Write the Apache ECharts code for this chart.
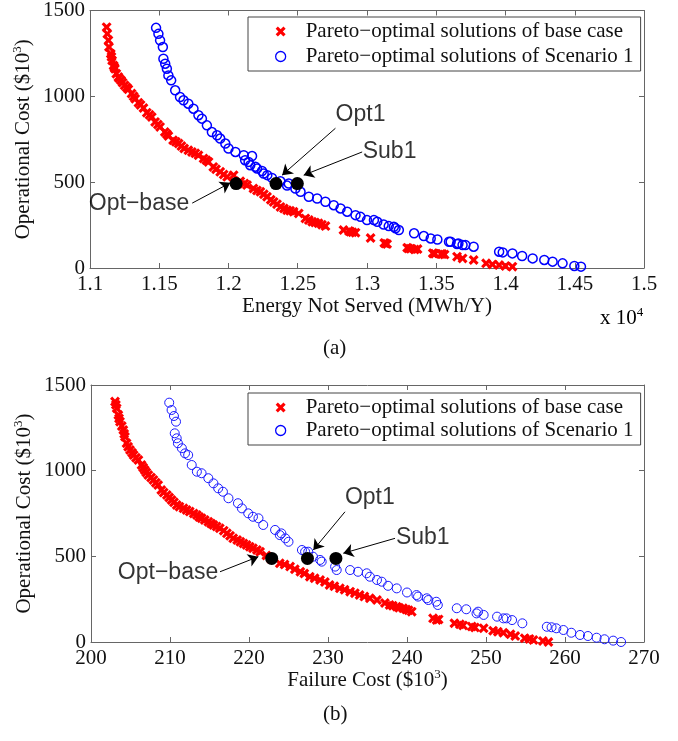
<!DOCTYPE html>
<html>
<head>
<meta charset="utf-8">
<script src="https://cdn.jsdelivr.net/npm/echarts@6/dist/echarts.min.js"></script>
<style>
  html, body { margin: 0; padding: 0; background: #fff; }
  #chart { width: 678px; height: 741px; }
</style>
</head>
<body>
<div id="chart"></div>
<script>
// (a) Energy Not Served (x 10^4 MWh/Y) vs Operational Cost ($10^3)
const ensBase = [
  [1.112, 1403], [1.1125, 1364], [1.1133, 1326], [1.1137, 1287], [1.115, 1248], [1.1155, 1230],
  [1.116, 1209], [1.117, 1180], [1.1175, 1170], [1.118, 1161], [1.119, 1132], [1.1205, 1112],
  [1.121, 1105], [1.1224, 1093], [1.1235, 1080], [1.125, 1064], [1.1265, 1052], [1.1277, 1041],
  [1.130, 1016], [1.1315, 1000], [1.1326, 986], [1.135, 963], [1.1365, 950], [1.1386, 932],
  [1.141, 905], [1.143, 892], [1.1446, 880], [1.147, 851], [1.149, 836], [1.1506, 822],
  [1.154, 792], [1.1555, 780], [1.1566, 769], [1.160, 744], [1.162, 735], [1.164, 725],
  [1.166, 710], [1.168, 696], [1.171, 686], [1.1736, 676], [1.176, 668], [1.1783, 657],
  [1.182, 638], [1.184, 628], [1.1856, 618], [1.189, 589], [1.191, 575], [1.194, 560],
  [1.1965, 545], [1.199, 531], [1.2037, 541], [1.2085, 505], [1.2115, 492], [1.2134, 483],
  [1.218, 463], [1.2205, 452], [1.223, 444], [1.2255, 430], [1.2278, 415], [1.2305, 398],
  [1.2326, 385], [1.235, 372], [1.2375, 356], [1.240, 347], [1.2423, 337], [1.2445, 333],
  [1.247, 328], [1.2507, 318], [1.2555, 289], [1.258, 279], [1.2604, 269], [1.2625, 265],
  [1.265, 260], [1.2675, 252], [1.27, 244], [1.283, 221], [1.287, 215], [1.288, 211],
  [1.2895, 208], [1.2917, 206], [1.3026, 175], [1.3125, 146], [1.3134, 143], [1.3145, 140],
  [1.329, 118], [1.330, 114], [1.3315, 112], [1.3345, 108], [1.3365, 110], [1.3475, 86],
  [1.348, 85], [1.349, 83], [1.3535, 82], [1.3544, 81], [1.356, 78], [1.365, 66],
  [1.369, 56], [1.377, 47], [1.386, 27], [1.3906, 21], [1.3954, 17], [1.400, 12], [1.405, 8]
]
const ensScenario = [
  [1.1477, 1399], [1.1494, 1364], [1.1506, 1326], [1.1526, 1287], [1.153, 1219], [1.1543, 1190],
  [1.1555, 1161], [1.1566, 1122], [1.1586, 1093], [1.1615, 1035], [1.165, 996], [1.1675, 977],
  [1.171, 957], [1.1747, 928], [1.1783, 890], [1.1808, 870], [1.1844, 831], [1.188, 792],
  [1.1917, 773], [1.194, 754], [1.1977, 725], [1.2, 696], [1.205, 676], [1.211, 657],
  [1.212, 628], [1.2145, 618], [1.217, 652], [1.2157, 599], [1.2194, 590], [1.2206, 580],
  [1.2242, 565], [1.2254, 550], [1.228, 541], [1.2314, 525], [1.2375, 505], [1.2423, 480],
  [1.2435, 492], [1.2483, 463], [1.252, 444], [1.258, 415], [1.264, 405], [1.27, 386],
  [1.276, 366], [1.2809, 347], [1.2857, 328], [1.2917, 308], [1.2953, 298], [1.300, 279],
  [1.305, 279], [1.3074, 269], [1.312, 253], [1.3157, 244], [1.3194, 240], [1.3206, 231],
  [1.323, 221], [1.334, 202], [1.341, 186], [1.346, 172], [1.3508, 166], [1.3592, 153],
  [1.3604, 153], [1.365, 140], [1.366, 143], [1.369, 134], [1.371, 134], [1.377, 124],
  [1.3954, 95], [1.398, 91], [1.405, 85], [1.412, 70], [1.4196, 56], [1.428, 47],
  [1.434, 37], [1.4412, 27], [1.4497, 12], [1.4545, 8]
]
const ensMarked = [[1.2055, 492], [1.2343, 492], [1.2497, 492]]

// (b) Failure Cost ($10^3) vs Operational Cost ($10^3)
const failBase = [
  [203.04, 1403], [203.15, 1385], [203.25, 1364], [203.46, 1325], [203.55, 1305], [203.67, 1286],
  [203.9, 1260], [204.09, 1237], [204.2, 1215], [204.3, 1198], [204.5, 1160], [204.7, 1140],
  [204.94, 1121], [205.2, 1105], [205.4, 1091], [205.7, 1075], [206, 1062], [206.4, 1033],
  [206.6, 1018], [206.8, 1004], [207, 990], [207.25, 975], [207.6, 960], [207.9, 946],
  [208.2, 930], [208.5, 916], [208.9, 887], [209.2, 872], [209.6, 858], [209.9, 843],
  [210.2, 829], [210.5, 815], [210.85, 800], [211.2, 790], [211.7, 780], [212.1, 770],
  [212.5, 761], [213, 750], [213.4, 741], [213.7, 730], [214, 722], [214.4, 712],
  [214.85, 702], [215.2, 692], [215.5, 683], [215.9, 674], [216.3, 664], [216.8, 650],
  [217.2, 634], [217.6, 620], [218, 605], [218.5, 595], [218.9, 585], [219.3, 575],
  [219.7, 566], [220.1, 556], [220.5, 547], [221, 537], [221.4, 527], [222.2, 505],
  [222.8, 485], [223.9, 459], [224.5, 452], [225.2, 440], [225.8, 425], [226.5, 410],
  [227, 400], [227.7, 381], [228.3, 372], [229, 362], [229.6, 350], [230.2, 333],
  [230.8, 325], [231.5, 313], [232.1, 305], [232.8, 294], [233.4, 285], [234, 274],
  [234.6, 265], [235.3, 255], [236.2, 245], [237.2, 228], [237.8, 216], [238.2, 212],
  [238.7, 206], [239, 200], [239.5, 197], [239.9, 190], [240.2, 185], [240.6, 177],
  [243.3, 138], [243.75, 128], [244, 132], [246, 109], [246.7, 103], [247.1, 97],
  [248.2, 90], [248.6, 85], [249.7, 80], [250.9, 66], [251.5, 60], [252.2, 54],
  [253.1, 45], [253.7, 35], [254.9, 22], [255.5, 18], [256, 12], [257.2, 6], [257.9, 0]
]
const failScenario = [
  [209.9, 1397], [210.2, 1354], [210.5, 1319], [210.76, 1286], [210.6, 1218], [210.85, 1189],
  [211, 1160], [211.5, 1131], [211.9, 1101], [212.3, 1091], [212.75, 1033], [213.4, 994],
  [214, 985], [214.85, 956], [215.5, 926], [216.1, 897], [216.7, 877], [217.4, 839],
  [218.6, 810], [219.1, 780], [219.9, 751], [220.5, 731], [221.2, 722], [221.8, 683],
  [223.3, 654], [223.9, 624], [224.1, 634], [224.6, 605], [225, 585], [226.7, 537],
  [227.1, 527], [227.5, 527], [228.1, 498], [229, 479], [229.2, 469], [230.9, 440],
  [231.1, 420], [232.8, 420], [233.8, 410], [234.9, 401], [235.3, 381], [236.2, 362],
  [236.8, 352], [237.6, 328], [238.7, 313], [240, 289], [241.2, 274], [241.4, 265],
  [242.5, 255], [242.7, 245], [243.7, 235], [243.9, 216], [246.3, 197], [247.5, 191],
  [248.8, 167], [249, 177], [249.7, 158], [251.4, 148], [252.2, 138], [252.6, 138],
  [253.3, 128], [254.6, 109], [257.7, 89], [258.3, 86], [258.9, 80], [259.8, 70],
  [260.8, 54], [261.9, 41], [262.9, 35], [264, 25], [265, 16], [266.1, 8], [267.1, 0]
]
const failMarked = [[222.87, 488], [227.4, 488], [231, 488]]

const ensTicks = [1.1, 1.5, 0.05]
const failTicks = [200, 270, 10]
const costTicks = [0, 1500, 500]

// annotation text [label, x, y] and arrows [fromX, fromY, toX, toY]
const ensNotes = [['Opt1', 1.2953, 895], ['Sub1', 1.3163, 680], ['Opt\u2212base', 1.1354, 372]]
const ensArrows = [[1.2772, 814, 1.2387, 541], [1.2965, 676, 1.2543, 541], [1.1738, 378, 1.2013, 496]]
const failNotes = [['Opt1', 235.3, 840], ['Sub1', 242.0, 607], ['Opt\u2212base', 209.75, 403]]
const failArrows = [[232.15, 760, 228.14, 537], [238.48, 605, 231.94, 518], [216.33, 410, 221.18, 498]]

const NAME_BASE = 'Pareto\u2212optimal solutions of base case'
const NAME_SCEN = 'Pareto\u2212optimal solutions of Scenario 1'

const SERIF = "'Liberation Serif', 'Times New Roman', serif"
const SANS = "'Liberation Sans', Arial, sans-serif"
const RED = '#ff0000'
const BLUE = '#0000ff'
const FRAME = '#666666'
const CROSS = 'path://M0,2.2 L2.2,0 L5,2.8 L7.8,0 L10,2.2 L7.2,5 L10,7.8 L7.8,10 L5,7.2 L2.2,10 L0,7.8 L2.8,5 Z'

const supRich = {
  a: { fontFamily: SERIF, fontSize: 21, color: '#111', lineHeight: 24 },
  s: { fontFamily: SERIF, fontSize: 13, color: '#111', lineHeight: 24, verticalAlign: 'top', padding: [0, 0, 10, 0] }
}

function xAxes(gridIndex, ticks, name, gap) {
  const [min, max, interval] = ticks
  return [{
    gridIndex, type: 'value', position: 'bottom', min, max, interval,
    name, nameLocation: 'middle', nameGap: gap, nameMoveOverlap: false,
    nameTextStyle: { rich: supRich },
    axisLine: { onZero: false, lineStyle: { color: FRAME, width: 1 } },
    axisTick: { inside: true, length: 5, lineStyle: { color: FRAME } },
    axisLabel: {
      margin: 6, color: '#111', fontFamily: SERIF, fontSize: 21,
      formatter: v => String(+v.toFixed(2))
    },
    splitLine: { show: false }
  }, {
    gridIndex, type: 'value', position: 'top', min, max, interval,
    axisLine: { onZero: false, lineStyle: { color: FRAME, width: 1 } },
    axisTick: { inside: true, length: 5, lineStyle: { color: FRAME } },
    axisLabel: { show: false },
    splitLine: { show: false }
  }]
}

function yAxes(gridIndex) {
  const [min, max, interval] = costTicks
  return [{
    gridIndex, type: 'value', position: 'left', min, max, interval,
    name: '{a|Operational Cost ($10}{s|3}{a|)}', nameLocation: 'middle', nameGap: 55, nameRotate: 90,
    nameMoveOverlap: false,
    nameTextStyle: { rich: supRich },
    axisLine: { onZero: false, lineStyle: { color: FRAME, width: 1 } },
    axisTick: { inside: true, length: 5, lineStyle: { color: FRAME } },
    axisLabel: { margin: 5, color: '#111', fontFamily: SERIF, fontSize: 21, formatter: v => String(v) },
    splitLine: { show: false }
  }, {
    gridIndex, type: 'value', position: 'right', min, max, interval,
    axisLine: { onZero: false, lineStyle: { color: FRAME, width: 1 } },
    axisTick: { inside: true, length: 5, lineStyle: { color: FRAME } },
    axisLabel: { show: false },
    splitLine: { show: false }
  }]
}

function legendFor(top, gap) {
  return {
    left: 248, top, orient: 'vertical', itemGap: gap, selectedMode: false,
    itemWidth: 10, itemHeight: 10,
    padding: [4, 7, 4, 27],
    borderColor: '#444', borderWidth: 1, backgroundColor: '#fff',
    textStyle: { fontFamily: SERIF, fontSize: 21, color: '#111', padding: [0, 0, 0, 15] },
    data: [
      { name: NAME_BASE, icon: CROSS, itemStyle: { color: RED, borderWidth: 0, opacity: 1 } },
      { name: NAME_SCEN, icon: 'circle', itemStyle: { color: 'rgba(0,0,0,0)', borderColor: BLUE, borderWidth: 1.3, opacity: 1 } }
    ]
  }
}

function markedSeries(xi, yi, points, notes, arrows) {
  return [{
    type: 'scatter', name: 'marked', xAxisIndex: xi, yAxisIndex: yi,
    symbol: 'circle', symbolSize: 13, z: 5,
    itemStyle: { color: '#000', opacity: 1 },
    data: points,
    markLine: {
      silent: true, animation: false,
      symbol: ['none', 'arrow'], symbolSize: 10,
      lineStyle: { color: '#000', width: 1, type: 'solid', opacity: 1 },
      label: { show: false },
      emphasis: { disabled: true },
      data: arrows.map(a => [{ coord: [a[0], a[1]] }, { coord: [a[2], a[3]] }])
    }
  }, {
    type: 'scatter', name: 'notes', xAxisIndex: xi, yAxisIndex: yi,
    symbolSize: 1, z: 6,
    itemStyle: { color: 'rgba(0,0,0,0)' },
    label: {
      show: true, position: 'inside', formatter: p => p.name,
      fontFamily: SANS, fontSize: 23, color: '#000'
    },
    data: notes.map(n => ({ name: n[0], value: [n[1], n[2]] }))
  }]
}

const chart = echarts.init(document.getElementById('chart'))
chart.setOption({
  animation: false,
  backgroundColor: '#fff',
  grid: [
    { left: 90, top: 10, width: 554, height: 258 },
    { left: 91, top: 385, width: 553, height: 257 }
  ],
  xAxis: [
    ...xAxes(0, ensTicks, '{a|Energy Not Served (MWh/Y)}', 26),
    ...xAxes(1, failTicks, '{a|Failure Cost ($10}{s|3}{a|)}', 26)
  ],
  yAxis: [...yAxes(0), ...yAxes(1)],
  legend: [legendFor(17, 4), legendFor(393, 2)],
  graphic: [
    { type: 'text', left: 600, top: 306, style: { text: '{a|x 10}{s|4}', rich: supRich } },
    { type: 'text', left: 323, top: 338, style: { text: '(a)', font: '21px ' + SERIF, fill: '#111' } },
    { type: 'text', left: 323, top: 704, style: { text: '(b)', font: '21px ' + SERIF, fill: '#111' } }
  ],
  series: [
    {
      type: 'scatter', name: NAME_BASE, xAxisIndex: 0, yAxisIndex: 0,
      symbol: CROSS, symbolSize: 10, itemStyle: { color: RED, opacity: 1 }, data: ensBase
    },
    {
      type: 'scatter', name: NAME_SCEN, xAxisIndex: 0, yAxisIndex: 0,
      symbol: 'circle', symbolSize: 9,
      itemStyle: { color: 'rgba(0,0,0,0)', borderColor: BLUE, borderWidth: 1.5, opacity: 1 }, data: ensScenario
    },
    ...markedSeries(0, 0, ensMarked, ensNotes, ensArrows),
    {
      type: 'scatter', name: NAME_BASE, xAxisIndex: 2, yAxisIndex: 2,
      symbol: CROSS, symbolSize: 10, itemStyle: { color: RED, opacity: 1 }, data: failBase
    },
    {
      type: 'scatter', name: NAME_SCEN, xAxisIndex: 2, yAxisIndex: 2,
      symbol: 'circle', symbolSize: 9,
      itemStyle: { color: 'rgba(0,0,0,0)', borderColor: '#1a1aff', borderWidth: 1, opacity: 1 }, data: failScenario
    },
    ...markedSeries(2, 2, failMarked, failNotes, failArrows)
  ]
})
</script>
</body>
</html>
